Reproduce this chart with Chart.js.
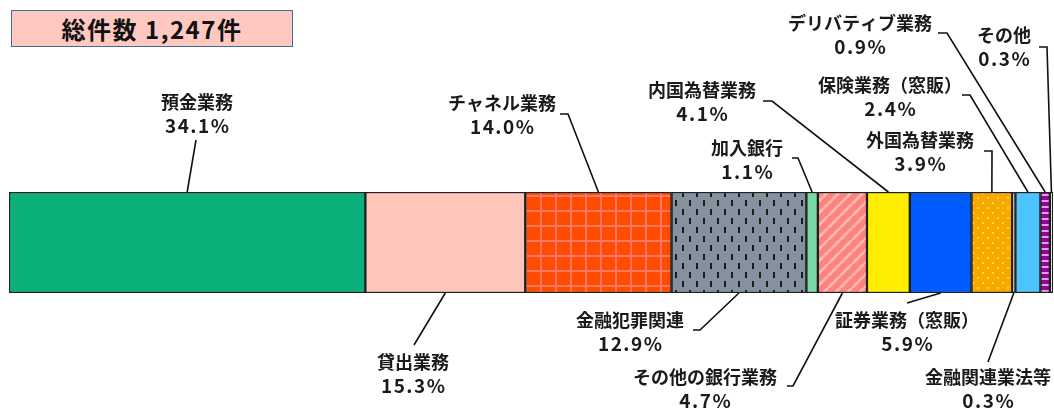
<!DOCTYPE html>
<html lang="ja">
<head>
<meta charset="utf-8">
<script src="https://cdn.jsdelivr.net/npm/chart.js@4.4.1/dist/chart.umd.min.js"></script>
<style>
  html, body { margin: 0; padding: 0; background: #fff; }
  #wrap { position: relative; width: 1054px; height: 412px; }
  #title {
    position: absolute; left: 11px; top: 10px; width: 280px; height: 35px;
    background: #FFC9C2; border: 1.5px solid #3D6F95;
    font: bold 24px "Noto Sans CJK JP", sans-serif; color: #111;
    display: flex; align-items: center; justify-content: center; letter-spacing: 1.5px;
  }
</style>
</head>
<body>
<div id="wrap">
  <canvas id="c" width="1054" height="412"></canvas>
  <div id="title">総件数 1,247件</div>
</div>
<script>
// 相談分野の内訳（構成比 %）
const categories = [
  '預金業務', '貸出業務', 'チャネル業務', '金融犯罪関連', '加入銀行',
  'その他の銀行業務', '内国為替業務', '証券業務（窓販）', '外国為替業務',
  '金融関連業法等', '保険業務（窓販）', 'デリバティブ業務', 'その他'
];
const shares = [34.1, 15.3, 14.0, 12.9, 1.1, 4.7, 4.1, 5.9, 3.9, 0.3, 2.4, 0.9, 0.3];
const barLabel = ['内訳'];

// 塗りの基本色
const baseColors = [
  '#0CB07A', '#FFC6BC', '#FF4C00', '#85919F', '#7AD8A6',
  '#FF8282', '#FFEE00', '#005CFF', '#F8A900',
  '#FBE3C4', '#4DC4FF', '#98009A', '#F4F4F4'
];

function makePattern(w, h, draw) {
  const c = document.createElement('canvas');
  c.width = w; c.height = h;
  const g = c.getContext('2d');
  draw(g, w, h);
  return g.createPattern(c, 'repeat');
}

const patterns = {
  2: makePattern(15, 15, (g, w, h) => {        // 格子
    g.fillStyle = '#FF4C00'; g.fillRect(0, 0, w, h);
    g.fillStyle = '#FF7666';
    g.fillRect(0, 0, 2, h); g.fillRect(0, 0, w, 2);
  }),
  3: makePattern(14, 18, (g, w, h) => {        // 短い縦線
    g.fillStyle = '#85919F'; g.fillRect(0, 0, w, h);
    g.fillStyle = '#1a1a1a';
    g.fillRect(3, 2, 2, 6); g.fillRect(10, 11, 2, 6);
  }),
  5: makePattern(12, 12, (g, w, h) => {        // 斜線
    g.fillStyle = '#FF8282'; g.fillRect(0, 0, w, h);
    g.strokeStyle = '#FFB8A8'; g.lineWidth = 3;
    for (let k = -1; k <= 1; k++) {
      g.beginPath(); g.moveTo(k * w, h); g.lineTo(k * w + w, 0); g.stroke();
    }
  }),
  8: makePattern(10, 10, (g, w, h) => {        // ドット
    g.fillStyle = '#F8A900'; g.fillRect(0, 0, w, h);
    g.fillStyle = '#FFD83A';
    g.fillRect(2, 2, 2, 2); g.fillRect(7, 7, 2, 2);
  }),
  11: makePattern(6, 6, (g, w, h) => {         // 横縞
    g.fillStyle = '#98009A'; g.fillRect(0, 0, w, h);
    g.fillStyle = '#D9A2E2'; g.fillRect(0, 2, w, 2);
  })
};

// ラベルの配置（文字中心と引出線の起点・折れ点）
const labelLayout = [
  { side: 'top',    cx: 197,  cy: 102, path: [[196, 140]] },
  { side: 'bottom', cx: 413,  cy: 362, path: [[414, 345]] },
  { side: 'top',    cx: 502,  cy: 103, path: [[560, 114], [568, 114]] },
  { side: 'bottom', cx: 630,  cy: 320, path: [[693, 330], [700, 330]] },
  { side: 'top',    cx: 747,  cy: 148, path: [[792, 158], [798, 158]] },
  { side: 'bottom', cx: 705,  cy: 377, path: [[787, 386], [793, 386]] },
  { side: 'top',    cx: 702,  cy: 90,  path: [[763, 101], [772, 101]] },
  { side: 'bottom', cx: 907,  cy: 320, path: [[907, 303]] },
  { side: 'top',    cx: 920,  cy: 140, path: [[984, 151], [992, 151]] },
  { side: 'bottom', cx: 988,  cy: 377, path: [[988, 362]] },
  { side: 'top',    cx: 890,  cy: 85,  path: [[962, 95], [970, 95]] },
  { side: 'top',    cx: 860,  cy: 23,  path: [[938, 33], [947, 33]] },
  { side: 'top',    cx: 1004, cy: 35,  path: [[1039, 47], [1047, 47]] }
];

const total = shares.reduce((a, b) => a + b, 0);

const calloutPlugin = {
  id: 'callouts',
  afterDatasetsDraw(chart) {
    const ctx = chart.ctx;
    ctx.save();
    chart.data.datasets.forEach((ds, i) => {
      const bar = chart.getDatasetMeta(i).data[0];
      const lay = labelLayout[i];
      const left = Math.min(bar.base, bar.x), right = Math.max(bar.base, bar.x);
      const ax = (left + right) / 2;
      const ay = lay.side === 'top' ? bar.y - bar.height / 2 : bar.y + bar.height / 2;
      // 引出線
      ctx.strokeStyle = '#111';
      ctx.lineWidth = 1.6;
      ctx.beginPath();
      lay.path.forEach((p, k) => k === 0 ? ctx.moveTo(p[0], p[1]) : ctx.lineTo(p[0], p[1]));
      ctx.lineTo(ax, ay);
      ctx.stroke();
      // 分野名と構成比
      ctx.fillStyle = '#1a1a1a';
      ctx.textAlign = 'center';
      ctx.textBaseline = 'middle';
      ctx.font = 'bold 18px "Noto Sans CJK JP", sans-serif';
      ctx.letterSpacing = '0px';
      ctx.fillText(categories[i], lay.cx, lay.cy);
      ctx.font = 'bold 19px "Noto Sans CJK JP", sans-serif';
      ctx.letterSpacing = '1.5px';
      ctx.fillText(shares[i].toFixed(1) + '%', lay.cx + 0.75, lay.cy + 24);
    });
    ctx.restore();
  }
};

new Chart(document.getElementById('c'), {
  type: 'bar',
  data: {
    labels: barLabel,
    datasets: categories.map((name, i) => ({
      label: name,
      data: [shares[i]],
      backgroundColor: patterns[i] || baseColors[i],
      borderColor: '#1f1f1f',
      borderWidth: 1.5,
      borderSkipped: false,
      barPercentage: 1,
      categoryPercentage: 1
    }))
  },
  options: {
    indexAxis: 'y',
    responsive: false,
    animation: false,
    layout: { padding: { left: 9, right: 1, top: 192, bottom: 119 } },
    scales: {
      x: { stacked: true, min: 0, max: total, display: false },
      y: { stacked: true, display: false }
    },
    plugins: {
      legend: { display: false },
      tooltip: { enabled: false }
    }
  },
  plugins: [calloutPlugin]
});
</script>
</body>
</html>
